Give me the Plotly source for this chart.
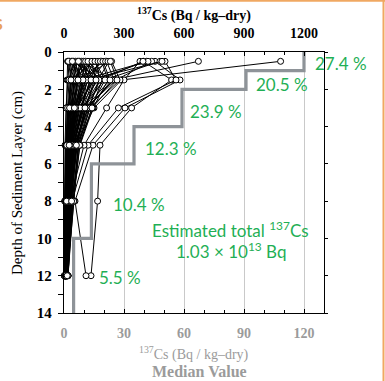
import plotly.graph_objects as go

# ---------------- data ----------------
depths = [0.5, 1.5, 3, 5, 8, 12]           # cm (layer mid-points)

# individual site profiles, 137Cs (Bq/kg-dry), top axis
profiles = [
    [1083, 288, 150, 60, 30, 10],
    [672, 245, 120, 50, 25, None],
    [397, 538, 338, 180, 168, 135],
    [455, 580, 305, 145, 55, 110],
    [505, 560, 272, 120, 40, 20],
    [380, 300, 213, 100, 30, 10],
    [480, 200, 90, 40, 15, None],
    [413, 150, 60, 25, None, None],
    [438, 260, 110, 55, 20, 8],
    [490, 120, 70, 30, 15, 8],
    [420, 90, 50, 20, 10, None],
    [395, 180, 95, 45, 20, 10],
    [18, 15, 12, 8, 5, 3],
    [25, 40, 20, 10, 6, 3],
    [35, 60, 30, 15, 8, 4],
    [45, 30, 25, 12, 7, None],
    [55, 80, 45, 20, 10, 5],
    [65, 50, 35, 18, 9, None],
    [75, 100, 55, 25, 12, 6],
    [85, 70, 40, 22, 10, 5],
    [95, 120, 60, 30, 15, 8],
    [105, 90, 70, 35, 18, None],
    [115, 140, 80, 40, 20, 10],
    [125, 60, 45, 25, 14, 7],
    [135, 160, 100, 50, 25, 12],
    [145, 110, 50, 28, 15, None],
    [160, 180, 120, 60, 30, 15],
    [175, 130, 90, 45, 22, 10],
    [188, 220, 145, 80, 45, 20],
    [200, 75, 35, 20, 12, 6],
    [213, 250, 110, 65, 35, 18],
    [225, 170, 75, 40, 20, None],
    [238, 280, 130, 70, 50, 15],
    [30, 110, 55, 30, 15, 8],
    [50, 150, 65, 30, 14, None],
    [40, 200, 100, 45, 20, 10],
    [90, 240, 120, 55, 25, 12],
    [110, 45, 25, 12, 6, 3],
    [150, 35, 20, 10, 5, None],
    [60, 20, 10, 5, 3, 2],
    [80, 130, 85, 50, 28, 14],
    [130, 190, 140, 75, 40, 20],
    [20, 25, 18, 10, 6, 3],
    [28, 50, 40, 22, 12, 6],
    [38, 85, 60, 35, 18, 9],
    [48, 95, 75, 40, 22, 11],
    [58, 45, 30, 16, 9, 4],
    [68, 115, 90, 52, 30, 12],
    [78, 65, 50, 28, 15, 7],
    [88, 150, 110, 60, 32, 15],
    [98, 55, 38, 20, 10, 5],
    [108, 175, 125, 66, 36, 16],
    [120, 100, 65, 38, 20, 9],
    [140, 85, 55, 32, 18, 8],
    [155, 205, 130, 72, 42, 18],
    [170, 145, 95, 48, 26, 12],
    [182, 110, 70, 36, 19, 9],
    [195, 230, 105, 58, 33, 14],
    [208, 135, 80, 42, 24, 10],
    [220, 95, 58, 30, 16, 7],
    [232, 265, 140, 78, 48, 20],
    [22, 35, 28, 14, 8, 4],
    [42, 70, 52, 26, 13, 6],
    [72, 160, 105, 62, 38, 16],
]

# median value per layer (bottom axis)
layer_bounds = [0, 1, 2, 4, 6, 10, 14]
median_vals = [120, 91, 59, 35, 13.7, 4.8]
inventory_pct = ["27.4 %", "20.5 %", "23.9 %", "12.3 %", "10.4 %", "5.5 %"]

top_ticks = [0, 300, 600, 900, 1200]
bottom_ticks = [0, 30, 60, 90, 120]
depth_ticks = [0, 2, 4, 6, 8, 10, 12, 14]

# ---------------- figure ----------------
SERIF = "Liberation Serif"
GREEN = "#1faf55"
GREYTXT = "#9b9b9b"

fig = go.Figure()

for p in profiles:
    fig.add_trace(go.Scatter(
        x=p, y=depths, xaxis="x", yaxis="y", mode="lines+markers",
        line=dict(color="black", width=1),
        marker=dict(symbol="circle", size=6, color="white",
                    line=dict(color="black", width=1)),
        showlegend=False, hoverinfo="skip", cliponaxis=False))

sx, sy = [], []
for v, t, b in zip(median_vals, layer_bounds[:-1], layer_bounds[1:]):
    sx += [v, v]
    sy += [t, b]
fig.add_trace(go.Scatter(
    x=sx, y=sy, xaxis="x2", yaxis="y2", mode="lines",
    line=dict(color="#8e9398", width=3.2), showlegend=False,
    hoverinfo="skip"))

L, R, T, B = 64, 324, 52, 313
W, H = R - L, B - T


def px(xp):
    return (xp - L) / W


def py(yp):
    return (B - yp) / H


fig.update_layout(
    width=385, height=381,
    margin=dict(l=L, r=385 - R, t=T, b=381 - B, pad=0, autoexpand=False),
    paper_bgcolor="white", plot_bgcolor="white",
    font=dict(family=SERIF, color="black"),
    xaxis=dict(side="top", range=[0, 1300], tickvals=top_ticks,
               ticks="inside", ticklen=4, tickcolor="black",
               minor=dict(dtick=100, tick0=0, ticks="inside", ticklen=3,
                          tickcolor="black"),
               showgrid=True, gridcolor="#c9c9c9", gridwidth=1,
               showline=True, linecolor="black", linewidth=1.2,
               zeroline=False, ticklabelstandoff=7, automargin=False,
               tickfont=dict(family=SERIF, size=14, color="black",
                             weight="bold"),
               anchor="y", fixedrange=True),
    xaxis2=dict(side="bottom", overlaying="x", range=[0, 130],
                tickvals=bottom_ticks, ticks="inside", ticklen=4,
                tickcolor="black",
                minor=dict(dtick=10, tick0=0, ticks="inside", ticklen=3,
                           tickcolor="black"),
                showgrid=False, showline=True, linecolor="black",
                linewidth=1.2, zeroline=False, ticklabelstandoff=7,
                automargin=False,
                tickfont=dict(family=SERIF, size=14, color=GREYTXT,
                              weight="bold"),
                anchor="y2", fixedrange=True),
    yaxis=dict(range=[14, 0], tickvals=depth_ticks, ticks="outside",
               ticklen=5, tickcolor="black",
               minor=dict(dtick=1, tick0=0, ticks="outside", ticklen=5,
                          tickcolor="black"),
               showgrid=False, showline=True, linecolor="black",
               linewidth=1.2, zeroline=False, ticklabelstandoff=3,
               automargin=False,
               tickfont=dict(family=SERIF, size=15, color="black",
                             weight="bold"),
               anchor="x", fixedrange=True),
    yaxis2=dict(range=[14, 0], overlaying="y", side="right",
                tickvals=depth_ticks, ticks="outside", ticklen=3,
                tickcolor="black", showticklabels=False,
                showgrid=False, showline=True, linecolor="black",
                linewidth=1.2, zeroline=False, anchor="x2",
                automargin=False, fixedrange=True),
)

ann = []
# axis titles
ann.append(dict(text="<sup>137</sup>Cs (Bq / kg\u2013dry)", x=px(194), y=py(14),
                font=dict(family=SERIF, size=14, color="black", weight="bold")))
ann.append(dict(text="<sup>137</sup>Cs (Bq / kg\u2013dry)", x=px(194), y=py(353),
                font=dict(family=SERIF, size=14, color=GREYTXT)))
ann.append(dict(text="Median Value", x=px(199), y=py(371),
                font=dict(family=SERIF, size=16, color=GREYTXT, weight="bold")))
ann.append(dict(text="Depth of Sediment Layer (cm)", x=px(17), y=py(183),
                textangle=-90,
                font=dict(family=SERIF, size=15, color="black")))

# inventory percentages (green)
pct_pos = [(341, 63), (282, 84), (216, 111), (171, 148), (139, 204), (120, 277)]
for t, (xx, yy) in zip(inventory_pct, pct_pos):
    ann.append(dict(text=t, x=px(xx), y=py(yy),
                    font=dict(family="Lato", size=17, color=GREEN)))
ann.append(dict(text="Estimated total <sup>137</sup>Cs", x=px(230), y=py(229),
                font=dict(family="Lato", size=17, color=GREEN)))
ann.append(dict(text="1.03 \u00d7 10<sup>13</sup> Bq", x=px(231), y=py(250),
                font=dict(family="Lato", size=17, color=GREEN)))
# orange fragment at left edge
ann.append(dict(text="S", x=px(-2), y=py(24),
                font=dict(family="Lato", size=16, color="#e8a05a", weight="bold")))

for a in ann:
    a.update(xref="paper", yref="paper", showarrow=False,
             xanchor="center", yanchor="middle")
fig.update_layout(annotations=ann)

# orange frame (top and right edges of the page)
fig.add_shape(type="line", xref="paper", yref="paper",
              x0=px(0), x1=px(385), y0=py(0.8), y1=py(0.8),
              line=dict(color="#f0a862", width=2))
fig.add_shape(type="line", xref="paper", yref="paper",
              x0=px(383.5), x1=px(383.5), y0=py(0), y1=py(381),
              line=dict(color="#f0a862", width=2))

fig.write_html(
    "out.html",
    config={"displayModeBar": False, "staticPlot": True},
    post_script="document.body.style.margin='0';"
                "document.body.style.overflow='hidden';",
)
